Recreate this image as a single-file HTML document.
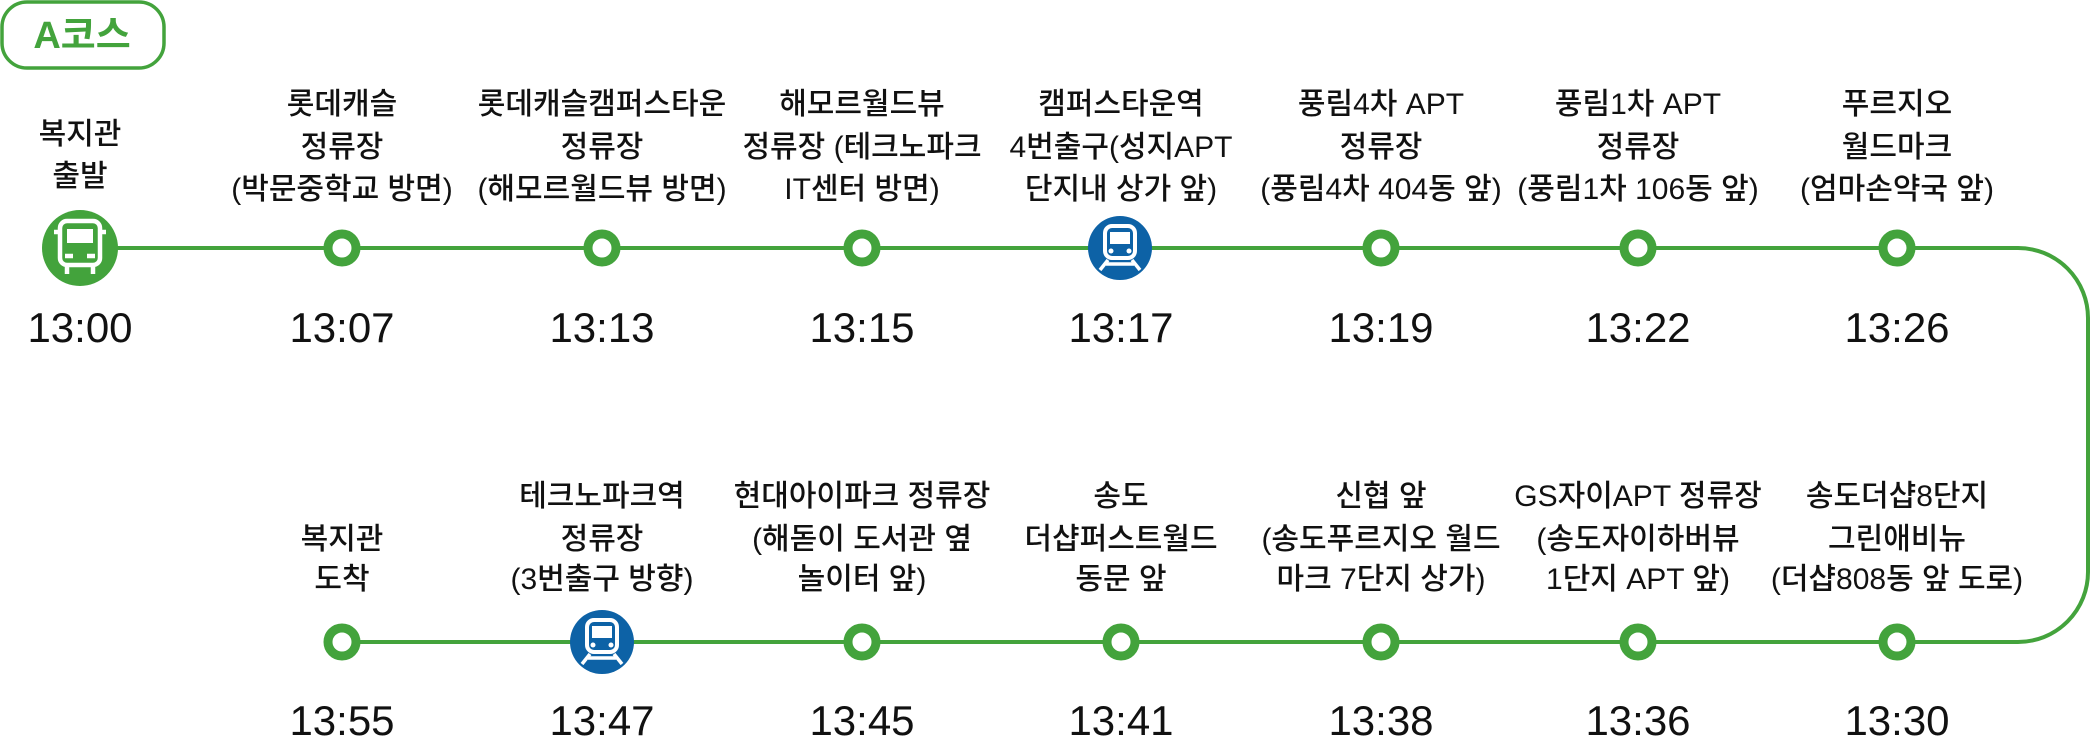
<!DOCTYPE html>
<html><head><meta charset="utf-8"><style>
html,body{margin:0;padding:0;background:#fff;}
svg{display:block;}
text{font-family:"Liberation Sans","Noto Sans CJK KR",sans-serif;fill:#111;}
.l{font-size:30px;text-anchor:middle;font-weight:500;}
.t{font-size:42px;text-anchor:middle;font-family:"Liberation Sans",sans-serif;}
</style></head><body>
<svg width="2092" height="738" viewBox="0 0 2092 738" xmlns="http://www.w3.org/2000/svg">
<defs>
<g id="ring"><circle r="14" fill="#fff" stroke="#43a33c" stroke-width="9"/></g>
<g id="metro"><circle r="32" fill="#0d62a6"/>
<rect x="-15" y="-22" width="30" height="32" rx="7" fill="none" stroke="#fff" stroke-width="4"/>
<rect x="-10" y="-16" width="20" height="12" fill="#fff"/>
<circle cx="-9" cy="3" r="2.5" fill="#fff"/><circle cx="9" cy="3" r="2.5" fill="#fff"/>
<path d="M-12 12 L-20 22 M12 12 L20 22 M-14 16 H14" stroke="#fff" stroke-width="3.5" fill="none"/>
</g>
</defs>
<rect x="2" y="2" width="162" height="66" rx="25" fill="none" stroke="#43a33c" stroke-width="3.5"/>
<text x="82" y="48" style="font-size:38px;font-weight:bold;fill:#43a33c;text-anchor:middle;">A코스</text>

<path d="M80 248 H2018 A70 70 0 0 1 2088 318 V572 A70 70 0 0 1 2018 642 H342" fill="none" stroke="#43a33c" stroke-width="4"/>

<circle cx="80" cy="248" r="38" fill="#43a33c"/>
<g transform="translate(80,248)" fill="none" stroke="#fff" stroke-width="4.5">
<rect x="-20" y="-27" width="40" height="44" rx="7"/>
<rect x="-13" y="-19" width="26" height="14" fill="#fff" stroke="none"/>
<path d="M-20 -16 H-26 M20 -16 H26"/>
<path d="M-15 8 H-7 M7 8 H15"/>
<path d="M-13 17 V26 M13 17 V26"/>
</g>
<use href="#ring" x="342" y="248"/>
<use href="#ring" x="602" y="248"/>
<use href="#ring" x="862" y="248"/>
<use href="#metro" x="1120" y="248"/>
<use href="#ring" x="1381" y="248"/>
<use href="#ring" x="1638" y="248"/>
<use href="#ring" x="1897" y="248"/>

<use href="#ring" x="342" y="642"/>
<use href="#metro" x="602" y="642"/>
<use href="#ring" x="862" y="642"/>
<use href="#ring" x="1121" y="642"/>
<use href="#ring" x="1381" y="642"/>
<use href="#ring" x="1638" y="642"/>
<use href="#ring" x="1897" y="642"/>

<text class="l" x="80" y="144">복지관</text><text class="l" x="80" y="186">출발</text>
<text class="l" x="342" y="114">롯데캐슬</text><text class="l" x="342" y="157">정류장</text><text class="l" x="342" y="199">(박문중학교 방면)</text>
<text class="l" x="602" y="114">롯데캐슬캠퍼스타운</text><text class="l" x="602" y="157">정류장</text><text class="l" x="602" y="199">(해모르월드뷰 방면)</text>
<text class="l" x="862" y="114">해모르월드뷰</text><text class="l" x="862" y="157">정류장 (테크노파크</text><text class="l" x="862" y="199">IT센터 방면)</text>
<text class="l" x="1121" y="114">캠퍼스타운역</text><text class="l" x="1121" y="157">4번출구(성지APT</text><text class="l" x="1121" y="199">단지내 상가 앞)</text>
<text class="l" x="1381" y="114">풍림4차 APT</text><text class="l" x="1381" y="157">정류장</text><text class="l" x="1381" y="199">(풍림4차 404동 앞)</text>
<text class="l" x="1638" y="114">풍림1차 APT</text><text class="l" x="1638" y="157">정류장</text><text class="l" x="1638" y="199">(풍림1차 106동 앞)</text>
<text class="l" x="1897" y="114">푸르지오</text><text class="l" x="1897" y="157">월드마크</text><text class="l" x="1897" y="199">(엄마손약국 앞)</text>

<text class="t" x="80" y="342">13:00</text>
<text class="t" x="342" y="342">13:07</text>
<text class="t" x="602" y="342">13:13</text>
<text class="t" x="862" y="342">13:15</text>
<text class="t" x="1121" y="342">13:17</text>
<text class="t" x="1381" y="342">13:19</text>
<text class="t" x="1638" y="342">13:22</text>
<text class="t" x="1897" y="342">13:26</text>

<text class="l" x="342" y="549">복지관</text><text class="l" x="342" y="589">도착</text>
<text class="l" x="602" y="506">테크노파크역</text><text class="l" x="602" y="549">정류장</text><text class="l" x="602" y="589">(3번출구 방향)</text>
<text class="l" x="862" y="506">현대아이파크 정류장</text><text class="l" x="862" y="549">(해돋이 도서관 옆</text><text class="l" x="862" y="589">놀이터 앞)</text>
<text class="l" x="1121" y="506">송도</text><text class="l" x="1121" y="549">더샵퍼스트월드</text><text class="l" x="1121" y="589">동문 앞</text>
<text class="l" x="1381" y="506">신협 앞</text><text class="l" x="1381" y="549">(송도푸르지오 월드</text><text class="l" x="1381" y="589">마크 7단지 상가)</text>
<text class="l" x="1638" y="506">GS자이APT 정류장</text><text class="l" x="1638" y="549">(송도자이하버뷰</text><text class="l" x="1638" y="589">1단지 APT 앞)</text>
<text class="l" x="1897" y="506">송도더샵8단지</text><text class="l" x="1897" y="549">그린애비뉴</text><text class="l" x="1897" y="589">(더샵808동 앞 도로)</text>

<text class="t" x="342" y="735">13:55</text>
<text class="t" x="602" y="735">13:47</text>
<text class="t" x="862" y="735">13:45</text>
<text class="t" x="1121" y="735">13:41</text>
<text class="t" x="1381" y="735">13:38</text>
<text class="t" x="1638" y="735">13:36</text>
<text class="t" x="1897" y="735">13:30</text>
</svg>
</body></html>
